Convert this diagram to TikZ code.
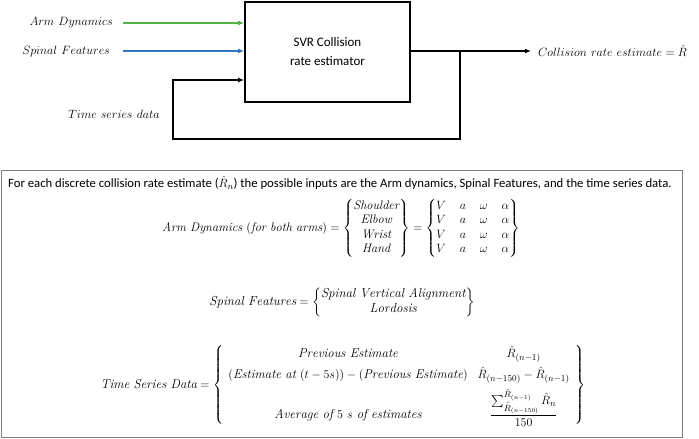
\documentclass[tikz,border=0pt]{standalone}
\usepackage{amsmath}
\usepackage{fontspec}
\newfontfamily\calib{Carlito}
\usetikzlibrary{arrows.meta,calc}
\definecolor{armgreen}{RGB}{84,178,72}
\definecolor{spblue}{RGB}{52,118,196}
\definecolor{panelgray}{RGB}{125,125,125}
\begin{document}
\begin{tikzpicture}[x=1pt,y=-1pt,
  lbl/.style={inner sep=0pt, font=\fontsize{13}{15}\selectfont},
  wire/.style={line width=1.3pt, -{Latex[length=6pt,width=5pt]}},
  eq/.style={inner sep=0pt}]
\useasboundingbox (0,0) rectangle (699,439);
% block
\node[draw, line width=1.8pt, minimum width=165pt, minimum height=100pt, inner sep=0pt,
      align=center, font=\calib\fontsize{13}{19}\selectfont] (svr) at (327.5,52)
      {SVR Collision\\rate estimator};
% inputs
\node[lbl, anchor=east] (arm) at (113,23) {$Arm\ Dynamics$};
\node[lbl, anchor=east] (spin) at (110,51) {$Spinal\ Features$};
\node[lbl] (tsd) at (114,114) {$Time\ series\ data$};
\draw[wire, armgreen] ($(arm.east)+(10,0)$) -- (svr.west |- arm);
\draw[wire, spblue] ($(spin.east)+(13,0)$) -- (svr.west |- spin);
% output
\node[lbl, anchor=west] (out) at (538,51) {$Collision\ rate\ estimate = \hat{R}$};
\draw[wire] (svr.east |- out) -- ($(out.west)+(-7,0)$);
% feedback
\coordinate (br) at (460,51);
\coordinate (fb) at (173,139);
\coordinate (tsy) at (0,80);
\draw[wire] (br) |- (fb) |- (svr.west |- tsy);
% lower panel
\node[draw=panelgray, line width=1.3pt, minimum width=681pt, minimum height=267pt,
      inner sep=0pt, anchor=north west] (panel) at (1,170) {};
\node[anchor=west, inner sep=0pt, font=\calib\fontsize{12.7}{15}\selectfont] (intro) at (8,183)
  {For each discrete collision rate estimate ($\hat{R}_n$) the possible inputs are the Arm dynamics, Spinal Features, and the time series data.};
\node[eq, font=\fontsize{12.4}{14.6}\selectfont] (armeq) at (341,228) {$\mathit{Arm\ Dynamics\ (for\ both\ arms)} =
  \left\{\begin{matrix} \mathit{Shoulder}\\ \mathit{Elbow}\\ \mathit{Wrist}\\ \mathit{Hand}\end{matrix}\right\}
  = \setlength{\arraycolsep}{7pt}\left\{\begin{matrix} V & a & \omega & \alpha\\ V & a & \omega & \alpha\\ V & a & \omega & \alpha\\ V & a & \omega & \alpha\end{matrix}\right\}$};
\node[eq, font=\fontsize{13}{15.5}\selectfont] (spineq) at (342,302) {$\mathit{Spinal\ Features} =
  \left\{\begin{matrix} \mathit{Spinal\ Vertical\ Alignment}\\ \mathit{Lordosis}\end{matrix}\right\}$};
\node[eq, font=\fontsize{12.8}{15}\selectfont] (tseq) at (343,385) {$\mathit{Time\ Series\ Data} =
  \renewcommand{\arraystretch}{1.4}\left\{\begin{array}{cc}
  \mathit{Previous\ Estimate} & \hat{R}_{(n-1)}\\
  (\mathit{Estimate\ at\ }(t-5s)) - (\mathit{Previous\ Estimate}) & \hat{R}_{(n-150)}-\hat{R}_{(n-1)}\\[4pt]
  \mathit{Average\ of\ }5\ s\mathit{\ of\ estimates} & \dfrac{\sum_{\hat{R}_{(n-150)}}^{\hat{R}_{(n-1)}}\hat{R}_n}{150}
  \end{array}\right\}$};
\end{tikzpicture}
\end{document}
